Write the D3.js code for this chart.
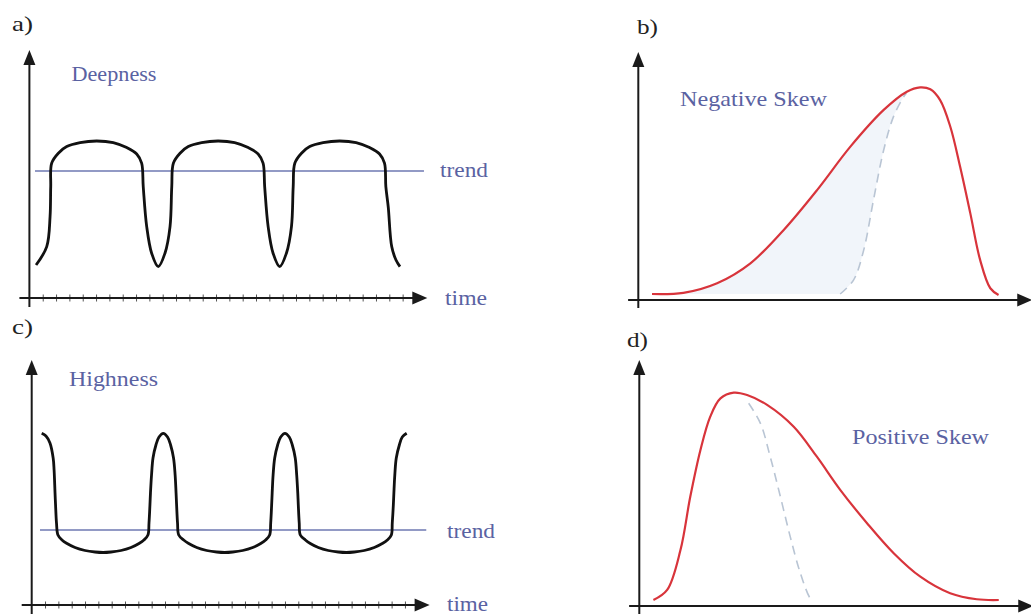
<!DOCTYPE html>
<html><head><meta charset="utf-8">
<script src="https://cdn.jsdelivr.net/npm/d3@7"></script>
<style>html,body{margin:0;padding:0;background:#fff;}svg{display:block;} .serif{font-family:"Liberation Serif","Times New Roman",serif;}</style>
</head><body>
<svg id="chart" width="1031" height="614"></svg>
<script>
// ---------- DATA ----------
// Panel a: "Deepness" series  [time, value]
const deepnessSeries = [
 [0.50,1.65],[1.30,2.57],[1.55,4.07],[1.60,5.57],[1.67,6.74],[2.17,7.24],[2.80,7.57],[3.80,7.77],[5.05,7.85],
 [6.29,7.77],[7.30,7.52],[8.05,7.20],[8.42,6.74],[8.54,5.57],[8.80,3.57],[9.17,2.24],[9.67,1.57],[10.17,2.24],
 [10.55,3.57],[10.68,5.57],[10.80,6.74],[11.30,7.24],[11.92,7.57],[12.92,7.77],[14.16,7.85],[15.40,7.77],
 [16.41,7.52],[17.16,7.20],[17.53,6.74],[17.65,5.57],[17.91,3.57],[18.28,2.24],[18.78,1.57],[19.28,2.24],
 [19.66,3.57],[19.79,5.57],[19.91,6.74],[20.41,7.24],[21.03,7.57],[22.03,7.77],[23.27,7.85],[24.51,7.77],
 [25.52,7.52],[26.27,7.20],[26.64,6.74],[26.74,5.57],[26.92,4.55],[27.18,2.57],[27.50,1.90],[27.80,1.57]
];
const deepnessTrend = 6.35;
// Panel c: "Highness" series [time, value]
const highnessSeries = [
 [0.75,8.585],[1.07,8.45],[1.37,8.10],[1.61,7.35],[1.68,6.75],[1.75,5.60],[1.79,5.00],[1.86,4.10],[1.97,3.50],
 [2.27,3.25],[2.65,3.075],[3.25,2.875],[4.00,2.725],[4.75,2.65],[5.35,2.625],[5.95,2.65],[6.70,2.725],[7.45,2.875],[8.05,3.075],[8.42,3.25],[8.72,3.50],
 [8.80,4.10],[8.87,5.00],[8.91,5.60],[8.99,6.50],[9.10,7.35],[9.32,8.00],[9.55,8.40],[9.87,8.585],[10.19,8.40],[10.42,8.00],[10.64,7.35],[10.76,6.50],[10.83,5.60],[10.87,5.00],[10.94,4.10],[11.03,3.50],
 [11.40,3.25],[11.78,3.075],[12.38,2.875],[13.13,2.725],[13.88,2.65],[14.48,2.625],[15.08,2.65],[15.83,2.725],[16.58,2.875],[17.18,3.075],[17.55,3.25],[17.85,3.50],
 [17.93,4.10],[18.00,5.00],[18.04,5.60],[18.11,6.50],[18.23,7.35],[18.45,8.00],[18.68,8.40],[19.00,8.585],[19.32,8.40],[19.55,8.00],[19.77,7.35],[19.88,6.50],[19.96,5.60],[20.00,5.00],[20.07,4.10],[20.15,3.50],
 [20.53,3.25],[20.90,3.075],[21.50,2.875],[22.25,2.725],[23.00,2.65],[23.60,2.625],[24.20,2.65],[24.95,2.725],[25.70,2.875],[26.30,3.075],[26.68,3.25],[26.98,3.50],
 [27.05,4.10],[27.13,5.00],[27.17,5.60],[27.24,6.50],[27.35,7.35],[27.58,8.00],[27.80,8.40],[28.13,8.585]
];
const highnessTrend = 3.75;
const timeTicks = d3.range(1, 29);
// Panel b: negative skew [x, density]
const negSkew = [
 [0.35,0.025],[1.15,0.030],[2.01,0.070],[2.86,0.153],[3.71,0.292],[4.56,0.458],[5.41,0.639],[6.26,0.792],
 [6.85,0.868],[7.19,0.886],[7.45,0.878],[7.70,0.833],[7.96,0.722],[8.21,0.555],[8.47,0.361],[8.72,0.167],
 [8.98,0.049],[9.19,0.021]
];
const negNormal = [
 [5.15,0.025],[5.49,0.083],[5.75,0.208],[6.00,0.417],[6.26,0.625],[6.51,0.764],[6.77,0.847],[6.84,0.862]
];
// Panel d: positive skew [x, density]
const posSkew = [
 [0.36,0.025],[0.71,0.067],[1.05,0.233],[1.30,0.455],[1.56,0.650],[1.81,0.789],[2.07,0.865],[2.41,0.889],
 [2.75,0.879],[3.26,0.838],[3.94,0.747],[4.53,0.622],[5.13,0.483],[5.81,0.345],[6.49,0.220],[7.17,0.122],
 [7.93,0.053],[8.61,0.028],[9.17,0.025]
];
const posNormal = [
 [2.79,0.845],[3.09,0.761],[3.34,0.622],[3.60,0.455],[3.85,0.289],[4.11,0.136],[4.36,0.032],[4.44,0.022]
];
const panelLabels = ["a)", "b)", "c)", "d)"];
const textLabels = {deep:"Deepness", high:"Highness", neg:"Negative Skew", pos:"Positive Skew", trend:"trend", time:"time"};

// ---------- STYLE ----------
const AX = "#1a1a1a", BLUE_TXT = "#5a62a2", TREND = "#6e78b2", RED = "#d8343b", DASH = "#b9c5d4", FILL = "#f1f5fa";
const svg = d3.select("#chart");

function txt(x, y, s, size, color, len){
  const t = svg.append("text").attr("class", "serif").attr("x", x).attr("y", y).text(s)
    .attr("font-size", size).attr("fill", color);
  if (len) t.attr("textLength", len).attr("lengthAdjust", "spacingAndGlyphs");
  return t;
}
function yArrow(x, yTip, yEnd){
  svg.append("line").attr("x1", x).attr("x2", x).attr("y1", yTip + 10).attr("y2", yEnd)
    .attr("stroke", AX).attr("stroke-width", 2);
  svg.append("path").attr("d", `M${x},${yTip}L${x-6},${yTip+15}L${x+6},${yTip+15}Z`).attr("fill", AX);
}
function xArrow(y, xStart, xTip){
  svg.append("line").attr("x1", xStart).attr("x2", xTip - 10).attr("y1", y).attr("y2", y)
    .attr("stroke", AX).attr("stroke-width", 2);
  svg.append("path").attr("d", `M${xTip},${y}L${xTip-15},${y-6.5}L${xTip-15},${y+6.5}Z`).attr("fill", AX);
}

// ---------- Panel a / c : time series ----------
function timePanel(cfg){
  const x = d3.scaleLinear().domain([0, 30]).range(cfg.xr);
  const y = d3.scaleLinear().domain([0, 12]).range(cfg.yr);
  const g = svg.append("g").attr("transform", `translate(0,${y(0)})`)
    .call(d3.axisBottom(x).tickValues(timeTicks).tickSize(7).tickSizeOuter(0).tickFormat(""));
  g.select(".domain").remove();
  g.selectAll(".tick line").attr("y1", -3.5).attr("y2", 3.5).attr("stroke", "#555").attr("stroke-width", 1);
  xArrow(y(0), x(-0.75), x(29.85));
  yArrow(x(0) , y(0) - cfg.yTipOff, cfg.yEnd);
  svg.append("line").attr("x1", x(cfg.trendFrom)).attr("x2", x(29.6))
    .attr("y1", y(cfg.trend)).attr("y2", y(cfg.trend)).attr("stroke", TREND).attr("stroke-width", 1.6);
  svg.append("path").datum(cfg.data)
    .attr("d", d3.line().x(d => x(d[0])).y(d => y(d[1])).curve(d3.curveCatmullRom.alpha(0.5)))
    .attr("fill", "none").attr("stroke", "#111").attr("stroke-width", 2.8).attr("stroke-linejoin", "round");
}
timePanel({xr:[29.4, 429.3], yr:[298, 58], data: deepnessSeries, trend: deepnessTrend, trendFrom: 0.42, yTipOff: 248, yEnd: 307});
timePanel({xr:[31.7, 431.6], yr:[605, 365], data: highnessSeries, trend: highnessTrend, trendFrom: 0.62, yTipOff: 245, yEnd: 614});

// ---------- Panel b / d : skew ----------
function skewPanel(cfg){
  const x = d3.scaleLinear().domain([0, 10]).range(cfg.xr);
  const y = d3.scaleLinear().domain([0, 1]).range(cfg.yr);
  const line = d3.line().x(d => x(d[0])).y(d => y(d[1])).curve(d3.curveCatmullRom.alpha(0.5));
  if (cfg.fill){
    const poly = cfg.skew.filter(d => d[0] <= cfg.normal[cfg.normal.length-1][0] + 0.02)
      .concat(cfg.normal.slice().reverse());
    svg.append("path").datum(poly).attr("d", line).attr("fill", FILL).attr("stroke", "none");
  }
  svg.append("path").datum(cfg.normal).attr("d", line).attr("fill", "none")
    .attr("stroke", DASH).attr("stroke-width", 1.6).attr("stroke-dasharray", "9,6");
  svg.append("path").datum(cfg.skew).attr("d", line).attr("fill", "none")
    .attr("stroke", RED).attr("stroke-width", 2.2);
  xArrow(y(0), x(-0.26), x(10.05));
  yArrow(x(0), y(0) - cfg.yTipOff, y(0) + 8);
}
skewPanel({xr:[638.3, 1030.3], yr:[300, 60], skew: negSkew, normal: negNormal, fill: true, yTipOff: 248});
skewPanel({xr:[639.3, 1031.3], yr:[606, 366], skew: posSkew, normal: posNormal, fill: false, yTipOff: 246});

// ---------- Texts ----------
txt(12, 31, panelLabels[0], 21, "#222", 21);
txt(637, 33.5, panelLabels[1], 21, "#222", 21);
txt(12, 334, panelLabels[2], 21, "#222", 21);
txt(627, 346.5, panelLabels[3], 21, "#222", 21);
txt(71.5, 81, textLabels.deep, 20, BLUE_TXT, 85);
txt(440, 177, textLabels.trend, 20, BLUE_TXT, 48);
txt(445, 305, textLabels.time, 20, BLUE_TXT, 42);
txt(69, 386, textLabels.high, 20, BLUE_TXT, 89);
txt(447, 537.5, textLabels.trend, 20, BLUE_TXT, 48);
txt(447, 611, textLabels.time, 20, BLUE_TXT, 41);
txt(680, 106, textLabels.neg, 21, BLUE_TXT, 147);
txt(852, 444, textLabels.pos, 21, BLUE_TXT, 137);
</script>
</body></html>
